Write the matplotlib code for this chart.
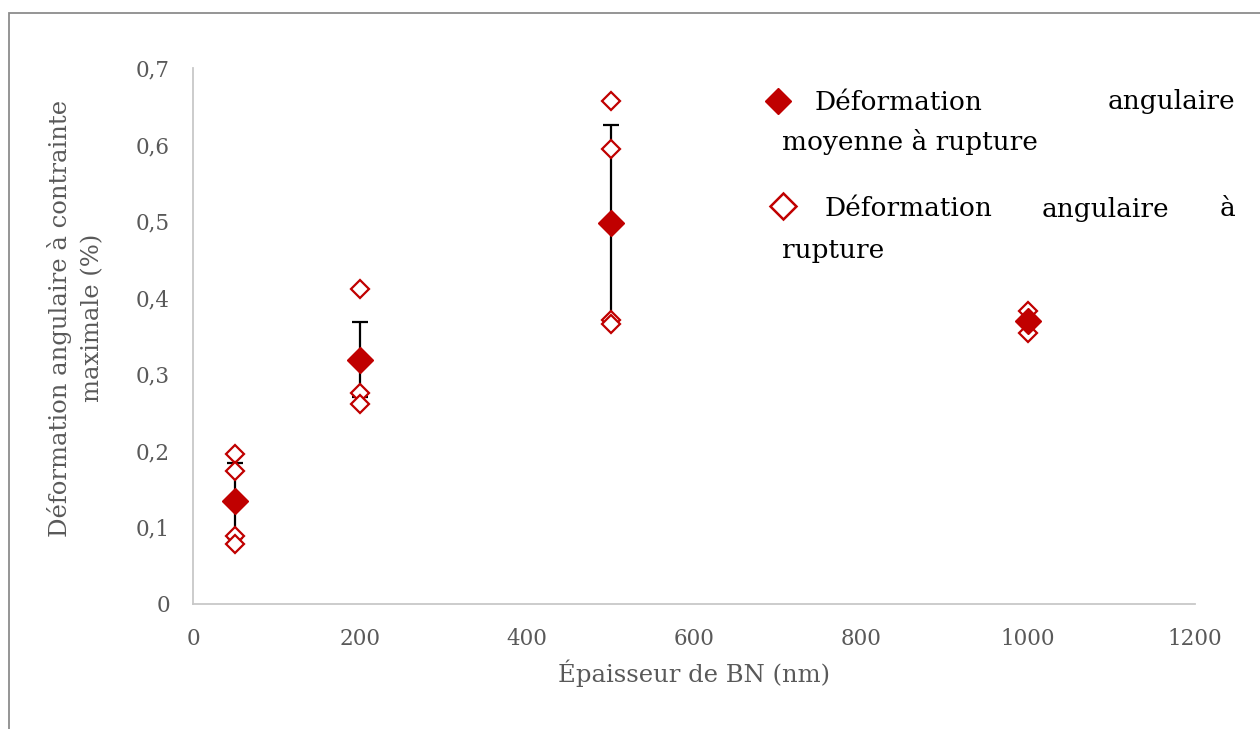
import matplotlib
matplotlib.use("Agg")
import matplotlib.pyplot as plt
from matplotlib.lines import Line2D
from matplotlib.patches import Rectangle

# ---- data ----
thickness = [50, 200, 500, 1000]
mean_strain = [0.135, 0.319, 0.497, 0.369]
err_strain = [0.049, 0.049, 0.129, 0.0]
sample_x = [50, 50, 50, 50, 200, 200, 200, 500, 500, 500, 500, 1000, 1000]
sample_strain = [0.196, 0.174, 0.089, 0.079, 0.411, 0.275, 0.261,
                 0.657, 0.594, 0.371, 0.366, 0.383, 0.354]
xticks = [0, 200, 400, 600, 800, 1000, 1200]
yticks = [0, 0.1, 0.2, 0.3, 0.4, 0.5, 0.6, 0.7]
ytick_labels = ["0", "0,1", "0,2", "0,3", "0,4", "0,5", "0,6", "0,7"]

RED = "#C00000"
GRAY = "#595959"
FONT = "DejaVu Serif"
plt.rcParams["font.family"] = [FONT]

W, H = 1260, 729
fig = plt.figure(figsize=(W / 100, H / 100), dpi=100)

def fx(px):
    return px / W

def fy(py):
    return 1 - py / H

# outer border (cropped at right and bottom)
fig.add_artist(Rectangle((fx(9), -0.1), 1.2, fy(13) + 0.1, transform=fig.transFigure,
                         fill=False, edgecolor="#8c8c8c", lw=1.3))

ax = fig.add_axes([fx(193), fy(604), fx(1195) - fx(193), fy(68) - fy(604)])
ax.set_xlim(0, 1200)
ax.set_ylim(0, 0.7)

ax.errorbar(thickness, mean_strain, yerr=err_strain, fmt="none", ecolor="black",
            elinewidth=1.6, capsize=6, capthick=1.6, zorder=2)
ax.plot(sample_x, sample_strain, ls="none", marker="D", ms=9, mfc="white",
        mec=RED, mew=1.6, zorder=3)
ax.plot(thickness, mean_strain, ls="none", marker="D", ms=13.5, mfc=RED,
        mec=RED, zorder=4)

for s in ["top", "right"]:
    ax.spines[s].set_visible(False)
for s in ["left", "bottom"]:
    ax.spines[s].set_color("#c8c8c8")
    ax.spines[s].set_linewidth(1.3)

ax.set_xticks(xticks)
ax.set_xticklabels([str(t) for t in xticks])
ax.set_yticks(yticks)
ax.set_yticklabels(ytick_labels)
ax.tick_params(length=0, labelsize=15.5, labelcolor=GRAY)
ax.tick_params(axis="x", pad=17)
ax.tick_params(axis="y", pad=16.5)

ax.set_xlabel("Épaisseur de BN (nm)", fontsize=17.5, color=GRAY)
ax.xaxis.set_label_coords(0.5, -(673 - 604) / 536, transform=ax.transAxes)
ax.xaxis.label.set_va("center")
ax.set_ylabel("Déformation angulaire à contrainte\nmaximale (%)", fontsize=17.5,
              color=GRAY, va="center", linespacing=1.5)
ax.yaxis.set_label_coords((76 - 193) / 1002, (604 - 318) / 536)

# legend (justified text, as in the reference)
LFS = 19
fig.add_artist(Line2D([fx(778)], [fy(101)], marker="D", ms=13.5, color=RED,
                      mfc=RED, mec=RED, ls="none", transform=fig.transFigure))
fig.add_artist(Line2D([fx(783)], [fy(206)], marker="D", ms=13, mfc="white",
                      mec=RED, mew=1.8, ls="none", transform=fig.transFigure))
fig.text(fx(815), fy(102), "Déformation", fontsize=LFS, va="center", ha="left")
fig.text(fx(1235), fy(102), "angulaire", fontsize=LFS, va="center", ha="right")
fig.text(fx(782), fy(142), "moyenne à rupture", fontsize=LFS, va="center", ha="left")
fig.text(fx(825), fy(209), "Déformation", fontsize=LFS, va="center", ha="left")
fig.text(fx(1105), fy(209), "angulaire", fontsize=LFS, va="center", ha="center")
fig.text(fx(1235), fy(209), "à", fontsize=LFS, va="center", ha="right")
fig.text(fx(782), fy(250), "rupture", fontsize=LFS, va="center", ha="left")

fig.savefig("out.png", dpi=100, facecolor="white")
